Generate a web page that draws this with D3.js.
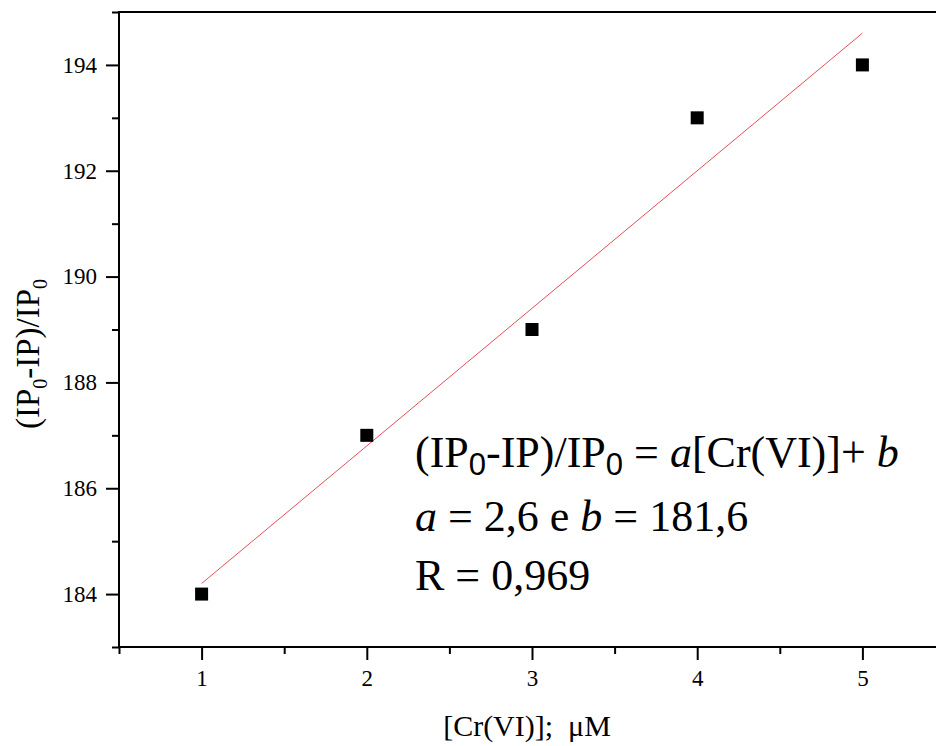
<!DOCTYPE html>
<html>
<head>
<meta charset="utf-8">
<script src="https://cdn.jsdelivr.net/npm/d3@7/dist/d3.min.js"></script>
<style>
  html, body { margin: 0; padding: 0; background: #fff; overflow: hidden; }
  svg { display: block; font-family: "Liberation Serif", "Times New Roman", serif; }
</style>
</head>
<body>
<svg id="chart" width="936" height="746"></svg>
<script>
// Cr(VI) concentration (µM) and the measured response
const concentrations = [1, 2, 3, 4, 5];
const responses = [184, 187, 189, 193, 194];

// Linear fit: (IP0-IP)/IP0 = a[Cr(VI)] + b
const fitA = 2.6;
const fitB = 181.6;
const fitR = 0.969;

// Axis ranges and ticks
const xDomain = [0.5, 5.5];
const yDomain = [183, 195];
const xMajorTicks = [1, 2, 3, 4, 5];
const xMinorTicks = [0.5, 1.5, 2.5, 3.5, 4.5, 5.5];
const yMajorTicks = [184, 186, 188, 190, 192, 194];
const yMinorTicks = [183, 185, 187, 189, 191, 193, 195];

const SERIF = '"Liberation Serif", "Times New Roman", serif';
const SANS = '"Liberation Sans", Arial, sans-serif';

const svg = d3.select("#chart");
const plot = { left: 119, right: 945, top: 12, bottom: 647 };

const x = d3.scaleLinear().domain(xDomain).range([plot.left, plot.right]);
const y = d3.scaleLinear().domain(yDomain).range([plot.bottom, plot.top]);

const comma = v => String(v).replace(".", ",");

function styleAxis(g) {
  g.select(".domain").remove();
  g.selectAll("line").attr("stroke", "#000").attr("stroke-width", 2);
  g.selectAll("text")
    .style("font-family", SERIF)
    .style("font-size", "23px")
    .attr("fill", "#000");
}

// Minor ticks (unlabelled)
svg.append("g")
  .attr("transform", `translate(0,${plot.bottom})`)
  .call(d3.axisBottom(x).tickValues(xMinorTicks).tickSize(7).tickSizeOuter(0).tickFormat(""))
  .call(styleAxis);
svg.append("g")
  .attr("transform", `translate(${plot.left},0)`)
  .call(d3.axisLeft(y).tickValues(yMinorTicks).tickSize(7).tickSizeOuter(0).tickFormat(""))
  .call(styleAxis);

// Major ticks with labels
svg.append("g")
  .attr("transform", `translate(0,${plot.bottom})`)
  .call(d3.axisBottom(x).tickValues(xMajorTicks).tickSize(13).tickSizeOuter(0).tickPadding(10).tickFormat(d3.format("d")))
  .call(styleAxis);
svg.append("g")
  .attr("transform", `translate(${plot.left},0)`)
  .call(d3.axisLeft(y).tickValues(yMajorTicks).tickSize(13).tickSizeOuter(0).tickPadding(9).tickFormat(d3.format("d")))
  .call(styleAxis);

// Plot frame
svg.append("rect")
  .attr("x", plot.left).attr("y", plot.top)
  .attr("width", plot.right - plot.left).attr("height", plot.bottom - plot.top)
  .attr("fill", "none").attr("stroke", "#000").attr("stroke-width", 2);

// Fitted line across the measured range
const xExt = d3.extent(concentrations);
svg.append("line")
  .attr("x1", x(xExt[0])).attr("y1", y(fitA * xExt[0] + fitB))
  .attr("x2", x(xExt[1])).attr("y2", y(fitA * xExt[1] + fitB))
  .attr("stroke", "#e23a48").attr("stroke-width", 0.9);

// Data points
const sq = 13;
svg.append("g").selectAll("rect")
  .data(concentrations.map((c, i) => [c, responses[i]]))
  .join("rect")
  .attr("x", d => x(d[0]) - sq / 2)
  .attr("y", d => y(d[1]) - sq / 2)
  .attr("width", sq).attr("height", sq)
  .attr("fill", "#000");

// Axis titles
svg.append("text")
  .attr("x", 527).attr("y", 736)
  .attr("text-anchor", "middle")
  .style("font-family", SERIF).style("font-size", "30px")
  .style("white-space", "pre")
  .text("[Cr(VI)];  \u03bcM");

const yTitle = svg.append("text")
  .attr("transform", "translate(39,354) rotate(-90)")
  .attr("text-anchor", "middle")
  .style("font-family", SERIF).style("font-size", "33px");
yTitle.append("tspan").text("(IP");
yTitle.append("tspan").style("font-size", "20px").attr("dy", 8).text("0");
yTitle.append("tspan").attr("dy", -8).text("-IP)/IP");
yTitle.append("tspan").style("font-size", "20px").attr("dy", 8).text("0");

// Fit equation annotation
function annLine(yPos) {
  return svg.append("text").attr("x", 415).attr("y", yPos)
    .style("font-family", SERIF).style("font-size", "44px")
    .style("white-space", "pre");
}
const l1 = annLine(467);
l1.append("tspan").text("(IP");
l1.append("tspan").style("font-family", SANS).style("font-size", "31px").attr("dy", 8).text("0");
l1.append("tspan").attr("dy", -8).text("-IP)/IP");
l1.append("tspan").style("font-family", SANS).style("font-size", "31px").attr("dy", 8).text("0");
l1.append("tspan").attr("dy", -8).text(" = ");
l1.append("tspan").style("font-style", "italic").text("a");
l1.append("tspan").text("[Cr(VI)]+ ");
l1.append("tspan").style("font-style", "italic").text("b");

const l2 = annLine(531);
l2.append("tspan").style("font-style", "italic").text("a");
l2.append("tspan").text(` = ${comma(fitA)} e `);
l2.append("tspan").style("font-style", "italic").text("b");
l2.append("tspan").text(` = ${comma(fitB)}`);

annLine(590).text(`R = ${comma(fitR)}`);
</script>
</body>
</html>
